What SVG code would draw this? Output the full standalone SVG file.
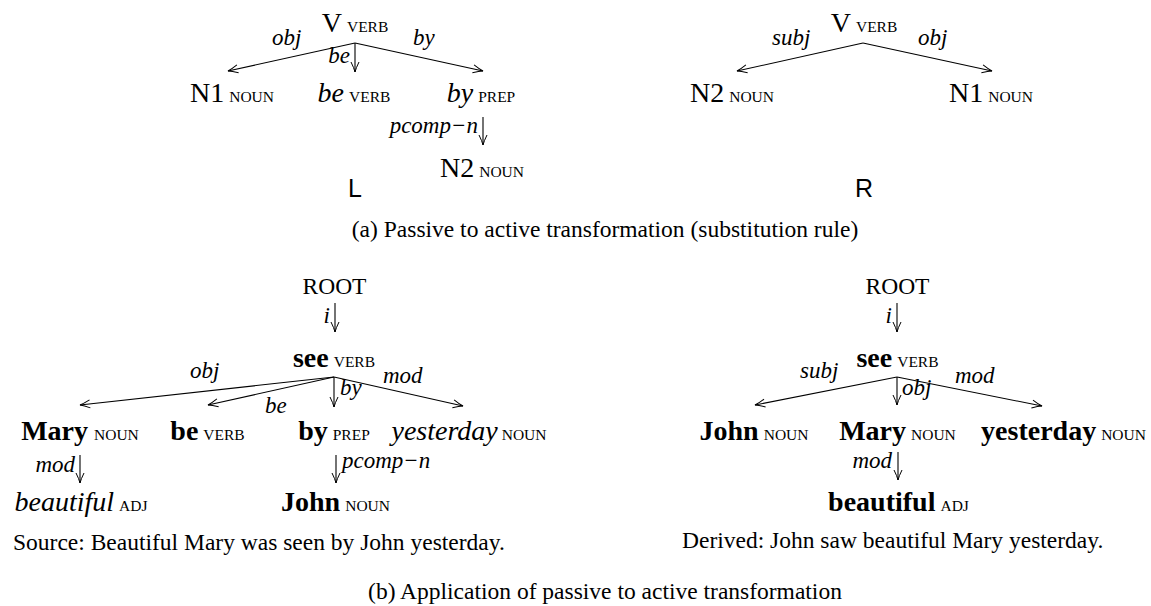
<svg xmlns="http://www.w3.org/2000/svg" width="1151" height="606" viewBox="0 0 1151 606">
<style>
text{font-family:"Liberation Serif","Times New Roman",serif;fill:#000}
.w{font-size:28px}
.b{font-size:28px;font-weight:bold}
.it{font-size:28px;font-style:italic}
.pos{font-size:15.5px;font-weight:normal;font-style:normal}
.lab{font-size:23px;font-style:italic}
.cap{font-size:23.5px}
.side{font-family:"Liberation Sans",Arial,sans-serif;font-size:25px}
.e{stroke:#000;stroke-width:1.1;fill:none;marker-end:url(#ah)}
</style>
<defs>
<marker id="ah" markerWidth="12" markerHeight="10" refX="11" refY="5" orient="auto" markerUnits="userSpaceOnUse">
<path d="M1,1 Q7,4 11,5 Q7,6 1,9" fill="none" stroke="#000" stroke-width="1"/>
</marker>
</defs>

<g id="connectors">
<!-- top left -->
<line class="e" x1="355" y1="43" x2="228" y2="71"/>
<line class="e" x1="355" y1="43" x2="355" y2="72"/>
<line class="e" x1="355" y1="43" x2="483" y2="71"/>
<line class="e" x1="483" y1="117" x2="483" y2="145"/>
<!-- top right -->
<line class="e" x1="863" y1="43" x2="737" y2="71"/>
<line class="e" x1="863" y1="43" x2="992" y2="71"/>
<!-- bottom left -->
<line class="e" x1="335" y1="303" x2="335" y2="332"/>
<line class="e" x1="334" y1="377" x2="80" y2="405"/>
<line class="e" x1="334" y1="377" x2="208" y2="405"/>
<line class="e" x1="334" y1="377" x2="334" y2="407"/>
<line class="e" x1="334" y1="377" x2="463" y2="406"/>
<line class="e" x1="80" y1="455" x2="80" y2="483"/>
<line class="e" x1="336" y1="455" x2="336" y2="483"/>
<!-- bottom right -->
<line class="e" x1="897" y1="303" x2="897" y2="332"/>
<line class="e" x1="897" y1="377" x2="755" y2="405"/>
<line class="e" x1="897" y1="377" x2="897" y2="405"/>
<line class="e" x1="897" y1="377" x2="1042" y2="406"/>
<line class="e" x1="898" y1="452" x2="898" y2="480"/>
</g>

<g id="edge-labels">
<text class="lab" x="272" y="45">obj</text>
<text class="lab" x="350" y="63" text-anchor="end">be</text>
<text class="lab" x="413" y="45">by</text>
<text class="lab" x="478" y="133" text-anchor="end">pcomp−n</text>
<text class="lab" x="772" y="45">subj</text>
<text class="lab" x="918" y="45">obj</text>
<text class="lab" x="330" y="323" text-anchor="end">i</text>
<text class="lab" x="190" y="378">obj</text>
<text class="lab" x="265" y="413">be</text>
<text class="lab" x="340" y="395">by</text>
<text class="lab" x="383" y="383">mod</text>
<text class="lab" x="75" y="472" text-anchor="end">mod</text>
<text class="lab" x="342" y="468">pcomp−n</text>
<text class="lab" x="892" y="323" text-anchor="end">i</text>
<text class="lab" x="800" y="378">subj</text>
<text class="lab" x="902" y="395">obj</text>
<text class="lab" x="955" y="383">mod</text>
<text class="lab" x="892" y="468" text-anchor="end">mod</text>
</g>

<g id="tl-V"><text class="w" x="355" y="32" text-anchor="middle">V<tspan class="pos" dx="5">VERB</tspan></text></g>
<g id="tl-N1"><text class="w" x="232" y="102" text-anchor="middle">N1<tspan class="pos" dx="5">NOUN</tspan></text></g>
<g id="tl-be"><text class="it" x="354" y="102" text-anchor="middle">be<tspan class="pos" dx="5">VERB</tspan></text></g>
<g id="tl-by"><text class="it" x="481" y="102" text-anchor="middle">by<tspan class="pos" dx="5">PREP</tspan></text></g>
<g id="tl-N2"><text class="w" x="482" y="177" text-anchor="middle">N2<tspan class="pos" dx="5">NOUN</tspan></text></g>
<g id="label-L"><text class="side" x="355" y="197" text-anchor="middle">L</text></g>

<g id="tr-V"><text class="w" x="864" y="32" text-anchor="middle">V<tspan class="pos" dx="5">VERB</tspan></text></g>
<g id="tr-N2"><text class="w" x="732" y="102" text-anchor="middle">N2<tspan class="pos" dx="5">NOUN</tspan></text></g>
<g id="tr-N1"><text class="w" x="991" y="102" text-anchor="middle">N1<tspan class="pos" dx="5">NOUN</tspan></text></g>
<g id="label-R"><text class="side" x="864" y="197" text-anchor="middle">R</text></g>

<g id="caption-a"><text class="cap" x="605" y="237" text-anchor="middle">(a) Passive to active transformation (substitution rule)</text></g>

<g id="bl-root"><text class="cap" x="334.5" y="294" text-anchor="middle">ROOT</text></g>
<g id="bl-see"><text class="b" x="334" y="367" text-anchor="middle">see<tspan class="pos" dx="5">VERB</tspan></text></g>
<g id="bl-mary"><text class="b" x="80" y="440" text-anchor="middle">Mary<tspan class="pos" dx="6">NOUN</tspan></text></g>
<g id="bl-be"><text class="b" x="207.5" y="440" text-anchor="middle">be<tspan class="pos" dx="5">VERB</tspan></text></g>
<g id="bl-by"><text class="b" x="334" y="440" text-anchor="middle">by<tspan class="pos" dx="5">PREP</tspan></text></g>
<g id="bl-yesterday"><text class="it" x="469" y="440" text-anchor="middle">yesterday<tspan class="pos" dx="4">NOUN</tspan></text></g>
<g id="bl-beautiful"><text class="it" x="81" y="511" text-anchor="middle">beautiful<tspan class="pos" dx="5">ADJ</tspan></text></g>
<g id="bl-john"><text class="b" x="335.5" y="511" text-anchor="middle">John<tspan class="pos" dx="5">NOUN</tspan></text></g>
<g id="source"><text class="cap" x="13" y="550">Source: Beautiful Mary was seen by John yesterday.</text></g>

<g id="br-root"><text class="cap" x="897.5" y="294" text-anchor="middle">ROOT</text></g>
<g id="br-see"><text class="b" x="897.5" y="367" text-anchor="middle">see<tspan class="pos" dx="5">VERB</tspan></text></g>
<g id="br-john"><text class="b" x="754" y="440" text-anchor="middle">John<tspan class="pos" dx="5">NOUN</tspan></text></g>
<g id="br-mary"><text class="b" x="897.5" y="440" text-anchor="middle">Mary<tspan class="pos" dx="5">NOUN</tspan></text></g>
<g id="br-yesterday"><text class="b" x="1063.5" y="440" text-anchor="middle">yesterday<tspan class="pos" dx="5">NOUN</tspan></text></g>
<g id="br-beautiful"><text class="b" x="898.5" y="511" text-anchor="middle">beautiful<tspan class="pos" dx="5">ADJ</tspan></text></g>
<g id="derived"><text class="cap" x="682" y="548">Derived: John saw beautiful Mary yesterday.</text></g>

<g id="caption-b"><text class="cap" x="605" y="599" text-anchor="middle">(b) Application of passive to active transformation</text></g>
</svg>
